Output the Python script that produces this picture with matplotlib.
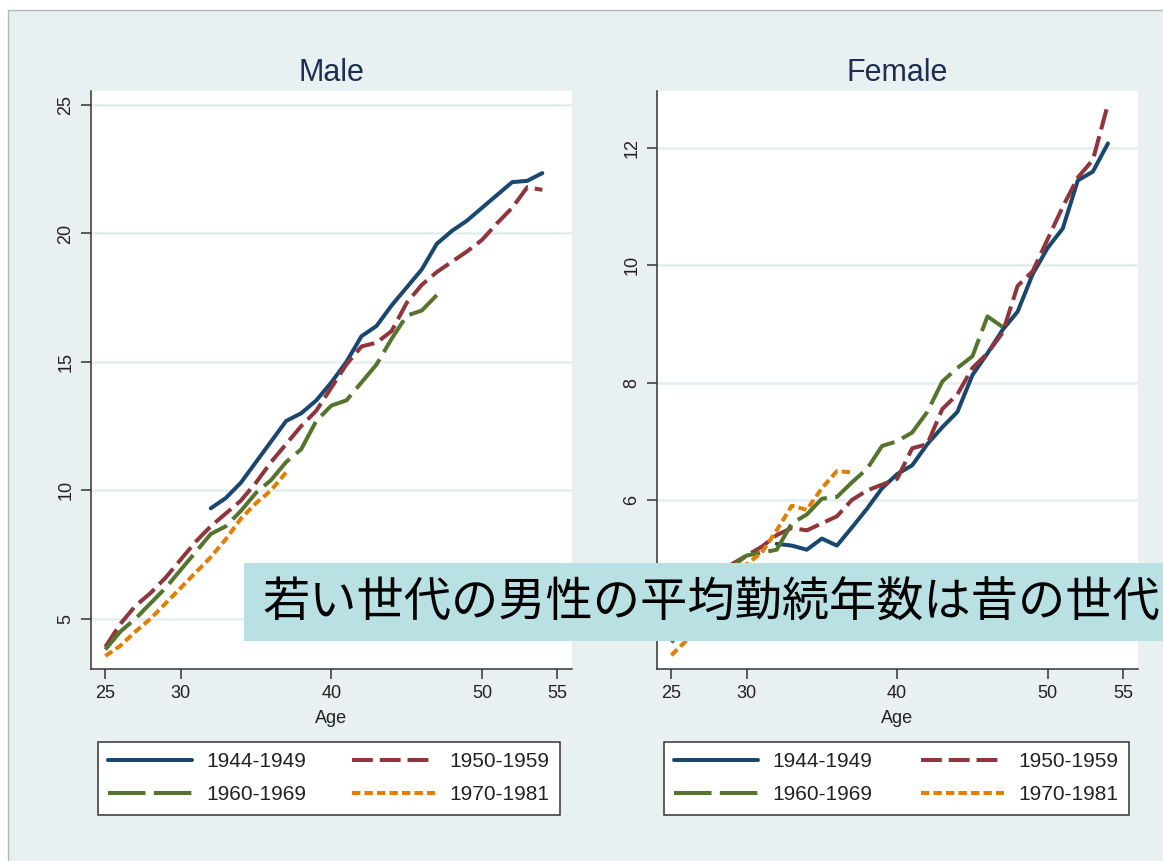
import matplotlib
matplotlib.use("Agg")
import matplotlib.pyplot as plt
from matplotlib.patches import Rectangle

plt.rcParams['font.family'] = ['Liberation Sans', 'DejaVu Sans']
plt.rcParams['lines.scale_dashes'] = False

# cohorts and styling
cohorts = ["1944-1949", "1950-1959", "1960-1969", "1970-1981"]
colors = ["#1A476F", "#90353B", "#55752F", "#E37E00"]
styles = ["-", (0, (15, 5)), (0, (27, 6)), (0, (6, 3))]

# male: average years of tenure by age
male_age_4449 = list(range(32, 55))
male_4449 = [9.3, 9.7, 10.3, 11.1, 11.9, 12.7, 13.0, 13.5, 14.2, 15.0, 16.0, 16.4,
             17.2, 17.9, 18.6, 19.6, 20.1, 20.5, 21.0, 21.5, 22.0, 22.05, 22.35]
male_age_5059 = list(range(25, 55))
male_5059 = [3.9, 4.8, 5.5, 6.0, 6.6, 7.3, 8.0, 8.6, 9.1, 9.6, 10.3, 11.1, 11.8, 12.5,
             13.1, 14.0, 14.9, 15.6, 15.75, 16.2, 17.3, 18.0, 18.5, 18.9, 19.3, 19.75,
             20.4, 21.0, 21.8, 21.7]
male_age_6069 = list(range(25, 48))
male_6069 = [3.8, 4.5, 5.0, 5.6, 6.2, 6.9, 7.6, 8.3, 8.6, 9.2, 9.9, 10.4, 11.1, 11.6,
             12.7, 13.3, 13.5, 14.2, 14.9, 15.9, 16.8, 17.0, 17.6]
male_age_7081 = list(range(25, 38))
male_7081 = [3.55, 3.95, 4.5, 5.0, 5.6, 6.2, 6.8, 7.4, 8.1, 8.9, 9.5, 10.0, 10.7]

# female
fem_age_4449 = list(range(32, 55))
fem_4449 = [5.25, 5.22, 5.15, 5.34, 5.22, 5.53, 5.85, 6.2, 6.44, 6.59, 6.95, 7.24,
            7.5, 8.13, 8.5, 8.9, 9.21, 9.85, 10.3, 10.63, 11.45, 11.6, 12.08]
fem_age_5059 = list(range(25, 55))
fem_5059 = [3.8, 4.1, 4.4, 4.65, 4.9, 5.05, 5.2, 5.4, 5.52, 5.48, 5.6, 5.72, 6.0, 6.16,
            6.26, 6.36, 6.88, 6.95, 7.55, 7.8, 8.25, 8.5, 8.85, 9.65, 9.9, 10.45, 11.0,
            11.5, 11.8, 12.75]
fem_age_6069 = list(range(25, 48))
fem_6069 = [3.57, 3.85, 4.2, 4.5, 4.85, 5.05, 5.1, 5.15, 5.6, 5.75, 6.02, 6.05, 6.3,
            6.53, 6.92, 7.0, 7.15, 7.5, 8.02, 8.25, 8.45, 9.13, 8.95]
fem_age_7081 = list(range(25, 38))
fem_7081 = [3.35, 3.6, 3.95, 4.3, 4.6, 4.9, 5.1, 5.48, 5.9, 5.83, 6.2, 6.49, 6.47]

male = [(male_age_4449, male_4449), (male_age_5059, male_5059),
        (male_age_6069, male_6069), (male_age_7081, male_7081)]
female = [(fem_age_4449, fem_4449), (fem_age_5059, fem_5059),
          (fem_age_6069, fem_6069), (fem_age_7081, fem_7081)]

bg = "#E8F0F2"
W, H = 1163, 861
fig = plt.figure(figsize=(W / 100, H / 100), dpi=100)
fig.patch.set_facecolor("white")
fig.add_artist(Rectangle((8 / W, -0.05), 1.1, 1 - 10 / H + 0.05, transform=fig.transFigure,
                         facecolor=bg, edgecolor="#B4B8BC", lw=1, zorder=-10))


def panel(rect, series, title, ylim, yticks, yticklabels, legend_rect):
    ax = fig.add_axes(rect)
    ax.set_facecolor("white")
    handles = []
    for (ages, vals), c, ls in zip(series, colors, styles):
        h, = ax.plot(ages, vals, color=c, linestyle=ls, lw=2.9, dash_capstyle="butt",
                     solid_capstyle="round")
        handles.append(h)
    ax.set_xlim(24.05, 55.97)
    ax.set_ylim(*ylim)
    ax.set_xticks([25, 30, 40, 50, 55])
    ax.set_yticks(yticks)
    ax.set_yticklabels(yticklabels)
    ax.yaxis.grid(True, color="#E4EDF0", lw=1.8)
    ax.set_axisbelow(True)
    for s in ["top", "right"]:
        ax.spines[s].set_visible(False)
    for s in ["left", "bottom"]:
        ax.spines[s].set_color("#333333")
        ax.spines[s].set_linewidth(1.1)
    ax.tick_params(direction="out", length=7, width=1.1, color="#333333",
                   labelsize=13, labelcolor="#222222")
    ax.tick_params(axis="x", pad=4)
    ax.tick_params(axis="y", labelrotation=90, pad=5)
    plt.setp(ax.get_yticklabels(), va="center")
    ax.set_xlabel("Age", fontsize=13, color="#222222", labelpad=6)
    ax.set_title(title, fontsize=22, color="#1E2D50", pad=7)
    order = [0, 2, 1, 3]
    leg = ax.legend([handles[i] for i in order], [cohorts[i] for i in order], ncol=2,
                    mode="expand", loc="upper left", bbox_to_anchor=legend_rect,
                    bbox_transform=fig.transFigure, borderaxespad=0, fontsize=15,
                    handlelength=4, handletextpad=0.7, fancybox=False, framealpha=1,
                    edgecolor="#333333", borderpad=0.5, labelspacing=0.68)
    leg.get_frame().set_linewidth(1.1)
    for t in leg.get_texts():
        t.set_color("#222222")
    return ax


ax_top, ax_bot = 90.7, 669.3
ax_h = (ax_bot - ax_top) / H
panel([91 / W, 1 - ax_bot / H, (572 - 91) / W, ax_h], male, "Male",
      (3.03, 25.56), [5, 10, 15, 20, 25], ["5", "10", "15", "20", "25"],
      (98 / W, 0, (560 - 98) / W, 1 - 741.7 / H))
# the "4" tick on the female axis sits under the banner
panel([657 / W, 1 - ax_bot / H, (1137.6 - 657) / W, ax_h], female, "Female",
      (3.11, 12.98), [4, 6, 8, 10, 12], ["", "6", "8", "10", "12"],
      (664 / W, 0, (1129 - 664) / W, 1 - 741.7 / H))

# caption banner
fig.add_artist(Rectangle((244 / W, 1 - 641 / H), 1.0, 78 / H, transform=fig.transFigure,
                         facecolor="#B9E0E3", edgecolor="none", zorder=10))
fig.text(262 / W, 1 - 603 / H, "若い世代の男性の平均勤続年数は昔の世代",
         fontsize=34, family=["Noto Sans CJK JP", "DejaVu Sans"], color="black",
         va="center", ha="left", zorder=11)

fig.savefig("out.png", dpi=100, facecolor=fig.get_facecolor())
